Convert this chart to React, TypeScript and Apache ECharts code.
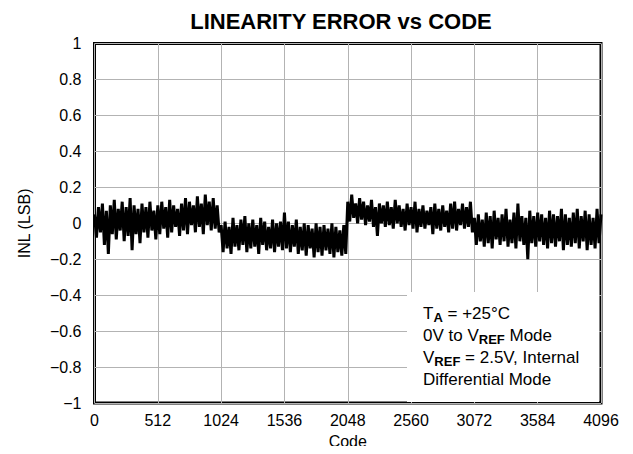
import React, { useEffect, useRef } from "react";
import * as echarts from "echarts";

const TITLE = "LINEARITY ERROR vs CODE";
const X_NAME = "Code";
const Y_NAME = "INL (LSB)";
const CODE_STEP = 16;
const X_TICKS = [0, 512, 1024, 1536, 2048, 2560, 3072, 3584, 4096];
const Y_TICKS = [-1, -0.8, -0.6, -0.4, -0.2, 0, 0.2, 0.4, 0.6, 0.8, 1];

// INL trace, one value every 16 codes (estimated envelope of the noisy trace)
const inlSegA = [
  0.05, -0.08, 0.09, -0.05, 0.11, -0.12, 0.07, -0.17, 0.10, -0.06, 0.13, -0.09, 0.08, -0.04, 0.12, -0.10,
  0.09, -0.07, 0.14, -0.15, 0.10, -0.06, 0.08, -0.11, 0.11, -0.05, 0.09, -0.08, 0.12, -0.04, 0.07, -0.09,
  0.10, -0.06, 0.12, -0.03, 0.09, -0.08, 0.13, -0.05, 0.10, -0.02, 0.08, -0.07, 0.11, -0.04, 0.14, -0.06,
  0.12, -0.01, 0.10, -0.05, 0.15, -0.02, 0.11, -0.06, 0.16, -0.01, 0.12, -0.04, 0.14, -0.03, 0.10, -0.05,
];
const inlSegB = [
  -0.01, -0.16, 0.01, -0.14, -0.02, -0.17, 0.03, -0.13, -0.01, -0.15, 0.02, -0.12, 0.04, -0.16, 0.0, -0.14,
  0.02, -0.13, -0.01, -0.17, 0.03, -0.12, 0.01, -0.15, -0.02, -0.14, 0.02, -0.16, 0.0, -0.13, 0.01, -0.15,
  0.06, -0.14, 0.01, -0.16, -0.01, -0.13, 0.02, -0.17, -0.02, -0.15, 0.0, -0.18, -0.01, -0.14, -0.03, -0.19,
  0.0, -0.16, -0.02, -0.18, -0.01, -0.15, -0.03, -0.17, 0.0, -0.19, -0.02, -0.16, -0.04, -0.18, -0.01, -0.17,
];
const inlSegC = [
  0.12, 0.01, 0.16, 0.03, 0.11, 0.0, 0.14, 0.02, 0.12, -0.01, 0.10, 0.01, 0.13, -0.02, 0.09, -0.07,
  0.11, 0.0, 0.10, -0.02, 0.12, -0.01, 0.09, -0.03, 0.13, 0.0, 0.10, -0.02, 0.08, -0.04, 0.11, -0.01,
  0.09, -0.03, 0.12, -0.05, 0.08, -0.02, 0.10, -0.03, 0.07, -0.01, 0.09, -0.06, 0.11, -0.03, 0.08, -0.04,
  0.10, -0.02, 0.07, -0.05, 0.11, -0.03, 0.12, -0.04, 0.08, -0.01, 0.11, -0.03, 0.09, -0.02, 0.12, -0.05,
];
const inlSegD = [
  0.03, -0.12, 0.05, -0.10, 0.02, -0.13, 0.06, -0.11, 0.04, -0.14, 0.07, -0.09, 0.03, -0.12, 0.05, -0.10,
  0.08, -0.13, 0.02, -0.11, 0.06, -0.14, 0.11, -0.10, 0.04, -0.12, 0.03, -0.20, 0.07, -0.11, 0.04, -0.13,
  0.06, -0.10, 0.05, -0.12, 0.03, -0.14, 0.07, -0.11, 0.05, -0.13, 0.04, -0.10, 0.08, -0.15, 0.05, -0.12,
  0.03, -0.13, 0.06, -0.11, 0.08, -0.14, 0.04, -0.10, 0.07, -0.15, 0.05, -0.12, 0.03, -0.14, 0.08, -0.11,
  0.05,
];

const NOTE_LINES = [
  "T{sub|A} = +25°C",
  "0V to V{sub|REF} Mode",
  "V{sub|REF} = 2.5V, Internal",
  "Differential Mode",
];

const FONT = "'Liberation Sans', Arial, Helvetica, sans-serif";

function fmtY(v: number): string {
  const r = Math.round(v * 10) / 10;
  const s = Math.abs(r).toString();
  return r < 0 ? "\u2212" + s : s;
}

function fmtX(v: number): string {
  return String(Math.round(v));
}

export default function App() {
  const ref = useRef<HTMLDivElement>(null);
  useEffect(() => {
    if (!ref.current) return;
    const chart = echarts.init(ref.current, undefined, { renderer: "svg" });
    const values = [...inlSegA, ...inlSegB, ...inlSegC, ...inlSegD];
    const data = values.map((v, i) => [i * CODE_STEP, v]);
    chart.setOption({
      animation: false,
      backgroundColor: "#fff",
      title: {
        text: TITLE,
        left: 336,
        textAlign: "center",
        top: 5,
        textStyle: { fontFamily: FONT, fontSize: 22, fontWeight: "bold", color: "#000" },
      },
      grid: {
        left: 94.5,
        right: 32,
        top: 43.5,
        bottom: 50.5,
        show: true,
        borderColor: "#000",
        borderWidth: 3,
        backgroundColor: "transparent",
      },
      xAxis: {
        type: "value",
        min: X_TICKS[0],
        max: X_TICKS[X_TICKS.length - 1],
        interval: 512,
        name: X_NAME,
        nameLocation: "middle",
        nameGap: 27,
        nameTextStyle: { fontFamily: FONT, fontSize: 16, color: "#000" },
        axisLine: { show: false },
        axisTick: { show: false },
        axisLabel: { fontFamily: FONT, fontSize: 16, color: "#000", margin: 9, formatter: fmtX },
        splitLine: { show: true, lineStyle: { color: "#b3b3b3", width: 1 } },
      },
      yAxis: {
        type: "value",
        min: Y_TICKS[0],
        max: Y_TICKS[Y_TICKS.length - 1],
        interval: 0.2,
        name: Y_NAME,
        nameLocation: "middle",
        nameGap: 62,
        nameRotate: 90,
        nameTextStyle: { fontFamily: FONT, fontSize: 16, color: "#000" },
        axisLine: { show: false },
        axisTick: { show: false },
        axisLabel: { fontFamily: FONT, fontSize: 16, color: "#000", margin: 13, formatter: fmtY },
        splitLine: { show: true, lineStyle: { color: "#b3b3b3", width: 1 } },
      },
      graphic: [
        {
          type: "rect",
          z: 5,
          shape: { x: 407, y: 292, width: 192, height: 110 },
          style: { fill: "#fff" },
        },
        {
          type: "text",
          z: 6,
          left: 423,
          top: 302,
          style: {
            text: NOTE_LINES.join("\n"),
            fontFamily: FONT,
            fontSize: 17,
            lineHeight: 22,
            fill: "#000",
            rich: {
              sub: {
                fontFamily: FONT,
                fontSize: 13,
                fontWeight: "bold",
                lineHeight: 22,
                verticalAlign: "bottom",
                padding: [7, 0, 0, 0],
                fill: "#000",
              },
            },
          },
        },
      ],
      series: [
        {
          type: "line",
          data,
          showSymbol: false,
          symbol: "none",
          lineStyle: { color: "#000", width: 3 },
          z: 3,
        },
      ],
    });
    return () => chart.dispose();
  }, []);
  return <div ref={ref} style={{ width: 633, height: 454, margin: -8 }} />;
}
